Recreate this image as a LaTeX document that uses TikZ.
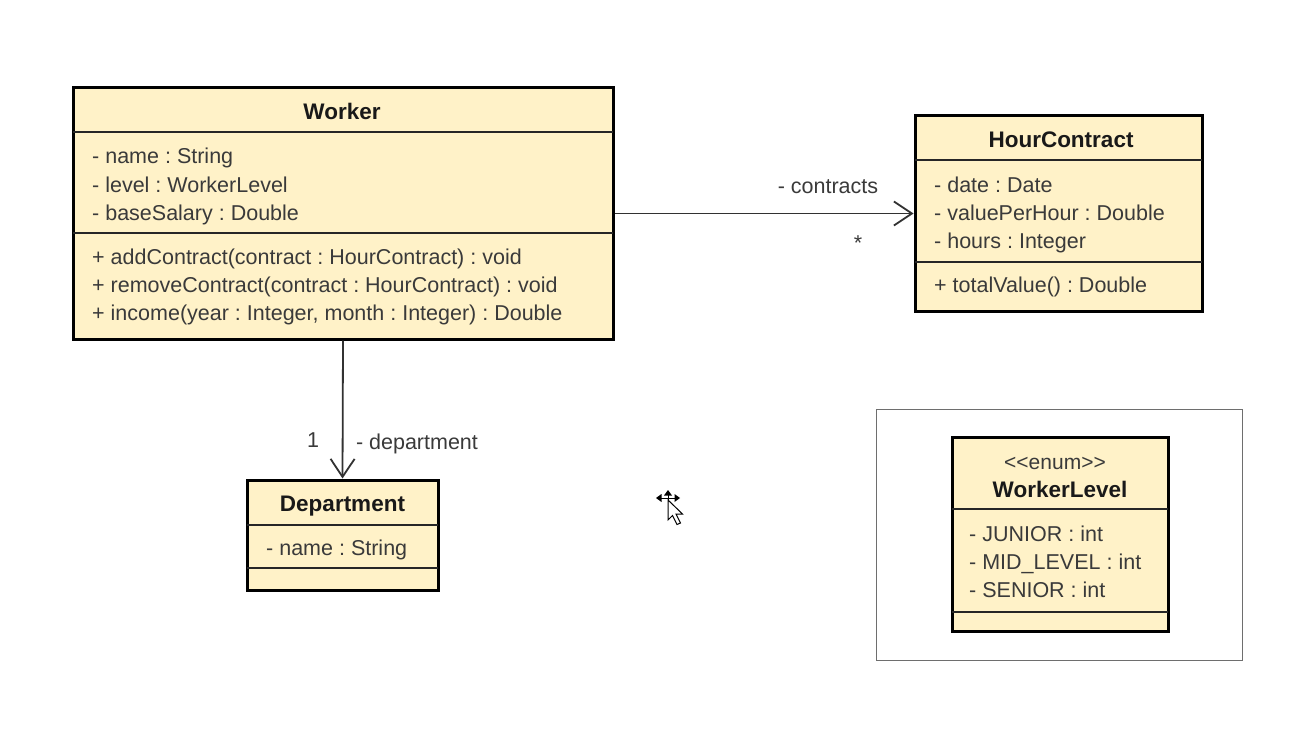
\documentclass[tikz,border=0pt]{standalone}
\usepackage{fontspec}
\setmainfont{Liberation Sans}
\usetikzlibrary{arrows.meta}
\frenchspacing
\definecolor{boxfill}{RGB}{255,242,200}
\definecolor{txt}{RGB}{58,58,58}
\definecolor{linec}{RGB}{50,50,50}
\definecolor{framec}{RGB}{110,110,110}

\tikzset{
  umlbox/.style={draw=black, line width=3pt, fill=boxfill, inner sep=0pt},
  sepline/.style={draw=black!85, line width=1.3pt},
  attr/.style={anchor=west, inner sep=0pt, text=txt, text height=16.5pt, text depth=2.5pt,
    font=\fontsize{21.5}{24}\selectfont},
  ttl/.style={inner sep=0pt, text=black!90, text height=17pt, text depth=2pt,
    font=\fontsize{22.5}{26}\selectfont\bfseries},
  stereo/.style={inner sep=0pt, text=txt, text height=16pt, text depth=3pt,
    font=\fontsize{21}{24}\selectfont},
  lbl/.style={inner sep=0pt, text=txt, text height=16.5pt, text depth=2.5pt,
    font=\fontsize{21.5}{24}\selectfont},
  assoc/.style={draw=linec, line width=1.8pt,
    -{Straight Barb[length=18pt,width=24pt,line width=1.8pt]}},
  frame/.style={draw=framec, line width=1pt},
}

\begin{document}
\begin{tikzpicture}[x=1pt,y=-1pt]
  \useasboundingbox (0,0) rectangle (1290,733);
  \fill[white] (0,0) rectangle (1290,733);

  % ---- Worker ----
  \node[umlbox, minimum width=540pt, minimum height=251pt] (worker) at (343,213.5) {};
  \draw[sepline] (73,132) -- (613,132);
  \draw[sepline] (73,233) -- (613,233);
  \node[ttl] (workerT) at (342,112) {Worker};
  \node[attr] (w1) at (92,156) {- name : String};
  \node[attr] (w2) at (92,185) {- level : WorkerLevel};
  \node[attr] (w3) at (92,213) {- baseSalary : Double};
  \node[attr] (w4) at (92,257) {+ addContract(contract : HourContract) : void};
  \node[attr] (w5) at (92,285) {+ removeContract(contract : HourContract) : void};
  \node[attr] (w6) at (92,313) {+ income(year : Integer, month : Integer) : Double};

  % ---- HourContract ----
  \node[umlbox, minimum width=287pt, minimum height=195pt] (hour) at (1058.5,213.5) {};
  \draw[sepline] (915,160) -- (1202,160);
  \draw[sepline] (915,262) -- (1202,262);
  \node[ttl] (hourT) at (1061,140) {HourContract};
  \node[attr] (h1) at (934,185) {- date : Date};
  \node[attr] (h2) at (934,213) {- valuePerHour : Double};
  \node[attr] (h3) at (934,241) {- hours : Integer};
  \node[attr] (h4) at (934,285) {+ totalValue() : Double};

  % ---- Department ----
  \node[umlbox, minimum width=191pt, minimum height=110pt] (dept) at (342.5,535) {};
  \draw[sepline] (247,525) -- (438,525);
  \draw[sepline] (247,568) -- (438,568);
  \node[ttl] (deptT) at (342.5,504) {Department};
  \node[attr] (d1) at (266,548) {- name : String};

  % ---- WorkerLevel (enum) inside its frame ----
  \node[frame, minimum width=366pt, minimum height=251pt, inner sep=0pt] (enumframe) at (1059,534.5) {};
  \node[umlbox, minimum width=216pt, minimum height=194pt] (level) at (1060,534) {};
  \draw[sepline] (952,509) -- (1168,509);
  \draw[sepline] (952,612) -- (1168,612);
  \node[stereo] (levelS) at (1055,463) {{<}{<}enum{>}{>}};
  \node[ttl] (levelT) at (1060,490) {WorkerLevel};
  \node[attr] (l1) at (969,534) {- JUNIOR : int};
  \node[attr] (l2) at (969,562) {- MID\_LEVEL : int};
  \node[attr] (l3) at (969,590) {- SENIOR : int};

  % ---- associations ----
  \draw[assoc] (worker.east) -- (hour.west);
  \node[lbl] (contractsL) at (828,186) {- contracts};
  \node[lbl] (contractsM) at (858,243) {*};
  \draw[assoc] (worker.south) -- (dept.north);
  \node[lbl] (deptM) at (313,440) {1};
  \node[lbl] (deptL) at (417,442) {- department};

  % ---- mouse pointer with move marks ----
  \begin{scope}[shift={(668,500)}]
    \fill[black] (0,-10) -- (-4,-4.5) -- (4,-4.5) -- cycle;
    \fill[black] (-12,-2) -- (-6.5,-6) -- (-6.5,2) -- cycle;
    \fill[black] (12,-2) -- (6.5,-6) -- (6.5,2) -- cycle;
    \draw[black, line width=1pt] (0,-5) -- (0,0) (-7,-2) -- (7,-2);
    \draw[black, fill=white, line width=1pt, line join=miter]
      (0,0) -- (0,20) -- (4.5,15.5) -- (9,24.5) -- (12.5,23) -- (8,14) -- (14.5,14) -- cycle;
  \end{scope}
\end{tikzpicture}
\end{document}
